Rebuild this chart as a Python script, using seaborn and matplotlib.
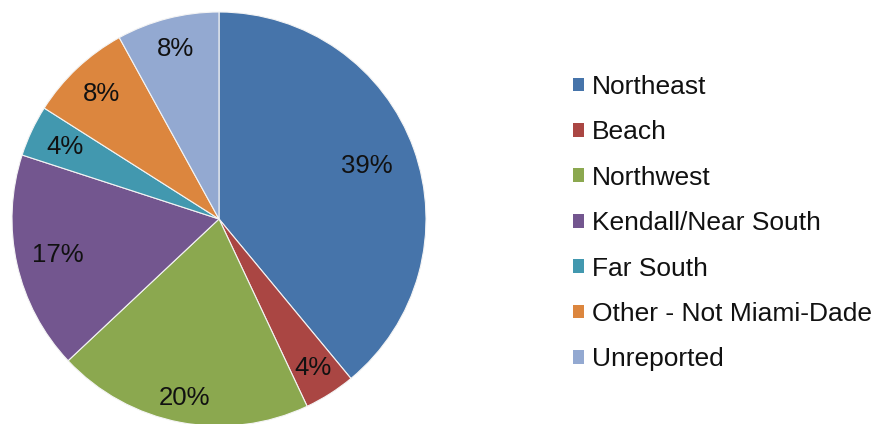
import numpy as np
import matplotlib
matplotlib.use("Agg")
import matplotlib.pyplot as plt
import seaborn as sns
from matplotlib.patches import Patch

regions = ['Northeast', 'Beach', 'Northwest', 'Kendall/Near South',
           'Far South', 'Other - Not Miami-Dade', 'Unreported']
shares = [39, 4, 20, 17, 4, 8, 8]
colors = ['#4674AA', '#AA4643', '#8BA84F', '#73568F', '#4298AF', '#DC863E', '#93A9D1']
# how far from the centre each percentage label sits (fraction of radius)
label_dist = [0.76, 0.85, 0.88, 0.80, 0.82, 0.83, 0.85]

sns.set_theme(style="white")
plt.rcParams['font.family'] = ['Liberation Sans', 'DejaVu Sans']

fig = plt.figure(figsize=(8.78, 4.24), dpi=100)
# pie axes: centre at (219, 219) px from top-left, radius ~207 px
r = 207
ax = fig.add_axes([(219 - r) / 878, (205 - r) / 424, 2 * r / 878, 2 * r / 424])
palette = sns.color_palette(colors)

wedges, texts, autotexts = ax.pie(
    shares, colors=palette, startangle=90, counterclock=False,
    autopct='%.0f%%', pctdistance=0.8, radius=1,
    wedgeprops=dict(edgecolor='#f4f4f4', linewidth=0.8),
    textprops=dict(fontsize=18.5, color='#111111'))

# push each label out to its own distance along the wedge's middle
for w, t, d in zip(wedges, autotexts, label_dist):
    ang = np.deg2rad((w.theta1 + w.theta2) / 2)
    t.set_position((d * np.cos(ang), d * np.sin(ang)))

ax.set_xlim(-1, 1)
ax.set_ylim(-1, 1)
ax.set_aspect('auto')
ax.axis('off')

handles = [Patch(facecolor=c, edgecolor='none') for c in palette]
fig.legend(handles, regions, loc='upper left',
           bbox_to_anchor=(573 / 878, (424 - 75) / 424),
           frameon=False, fontsize=19, borderpad=0, borderaxespad=0,
           handlelength=0.42, handleheight=0.42, handletextpad=0.3,
           labelspacing=0.81, labelcolor='#111111')

fig.savefig('out.png', dpi=100)
